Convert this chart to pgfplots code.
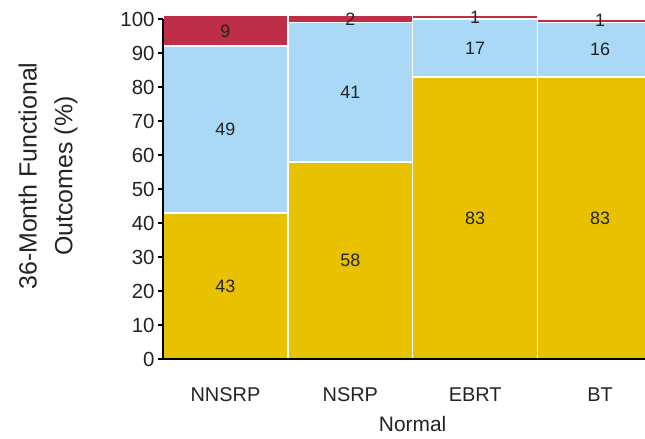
\documentclass[border=0pt]{standalone}
\usepackage{pgfplots}
\usepackage{pgfplotstable}
\pgfplotsset{compat=1.18}
\usepackage{fontspec}
\setmainfont{Liberation Sans}

\definecolor{goodyel}{RGB}{232,193,0}
\definecolor{midblue}{RGB}{169,217,247}
\definecolor{poorred}{RGB}{190,46,72}
\definecolor{txt}{RGB}{35,35,35}

% 36-month functional outcomes (%), by treatment
\pgfplotstableread{
x  good  fair  poor
0  43    49    9
1  58    41    2
2  83    17    1
3  83    16    1
}\outcomes

% value labels, centred in each stacked segment
\pgfplotsset{
  midlabel/.style={
    nodes near coords,
    point meta=\thisrow{#1},
    every node near coord/.append style={anchor=center, text=txt,
      font=\fontsize{18}{18}\selectfont},
  },
}

\begin{document}
\begin{tikzpicture}
\begin{axis}[
  scale only axis, width=482bp, height=340bp,
  xmin=-0.5, xmax=3.36, ymin=0, ymax=100,
  clip=false, axis on top,
  ybar stacked, bar width=1,
  axis x line=bottom, axis y line=left,
  axis line style={-, line width=1.6bp, black},
  ytick={0,10,...,100},
  tick align=outside, major tick length=5bp,
  ytick style={line width=1.2bp, black},
  xtick={0,1,2,3}, xticklabels={NNSRP,NSRP,EBRT,BT},
  xtick style={draw=none},
  /pgf/number format/assume math mode=true,
  yticklabel style={font=\fontsize{20.5}{20.5}\selectfont, text=txt},
  xticklabel style={font=\fontsize{20}{20}\selectfont, text=txt, anchor=base, yshift=-37bp},
  xlabel={Normal},
  xlabel style={at={(axis description cs:0.518,0)}, anchor=base, yshift=-72bp,
                font=\fontsize{21}{21}\selectfont, text=txt},
  ylabel={36-Month Functional\\Outcomes (\%)},
  ylabel style={align=center, font=\fontsize{25}{36}\selectfont, text=txt,
                at={(axis description cs:-0.2386,0.538)}, anchor=center},
  every axis plot/.append style={draw=white, line width=1.5bp},
]
\addplot[fill=goodyel, midlabel=good] table[x=x, y=good] {\outcomes};
\addplot[fill=midblue, midlabel=fair] table[x=x, y=fair] {\outcomes};
\addplot[fill=poorred, midlabel=poor] table[x=x, y=poor] {\outcomes};
\coordinate (ll) at (rel axis cs:0,0);
\coordinate (ur) at (rel axis cs:1,1);
\end{axis}
\pgfresetboundingbox
\path ([shift={(-163bp,-80bp)}]ll) rectangle ([shift={(0bp,19bp)}]ur);
\end{tikzpicture}
\end{document}
